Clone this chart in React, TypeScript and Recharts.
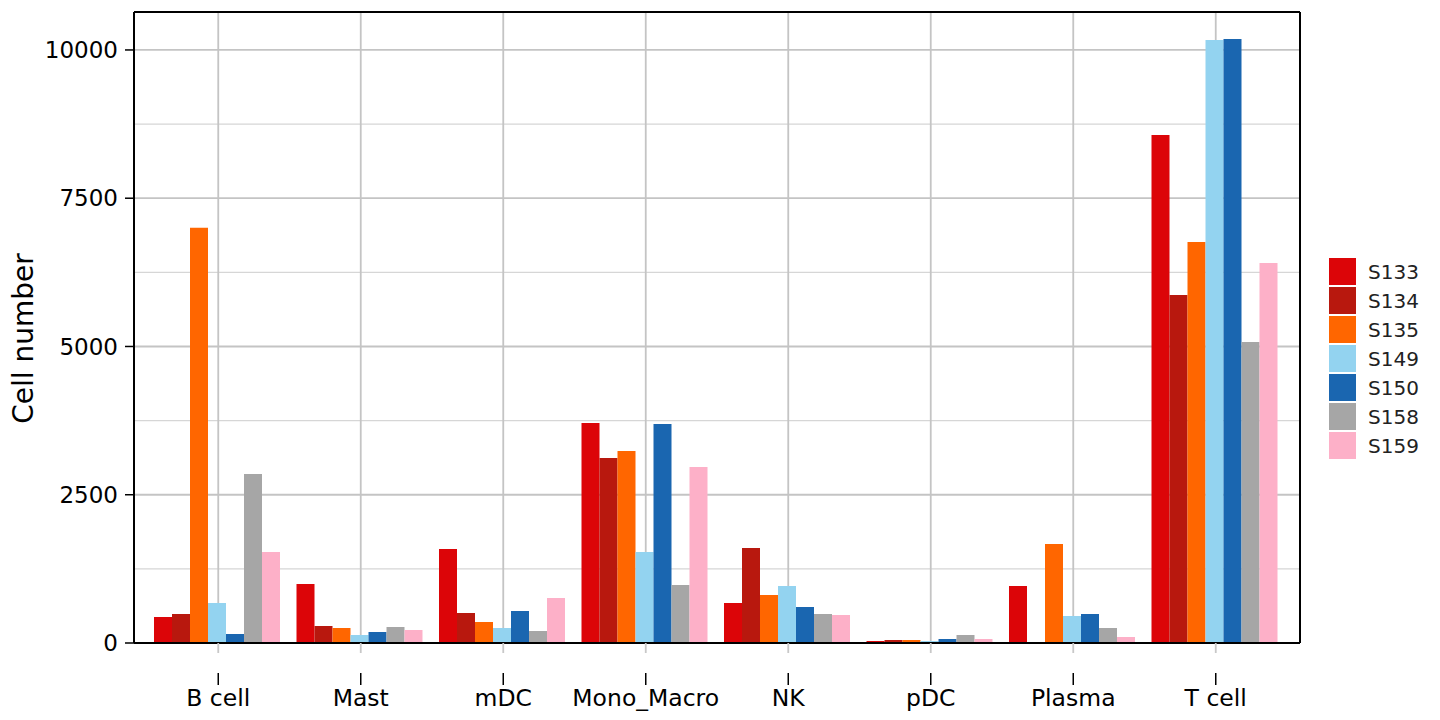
import React from 'react';
import {
  BarChart,
  Bar,
  XAxis,
  YAxis,
  CartesianGrid,
  Legend,
} from 'recharts';

const categories = ['B cell', 'Mast', 'mDC', 'Mono_Macro', 'NK', 'pDC', 'Plasma', 'T cell'];
const samples = ['S133', 'S134', 'S135', 'S149', 'S150', 'S158', 'S159'];
const colors = ['#dc0508', '#b8180e', '#ff6600', '#93d3f0', '#1a66b0', '#a6a6a6', '#fdb0c8'];

const S133 = [438, 995, 1585, 3710, 675, 34, 961, 8567];
const S134 = [489, 287, 506, 3120, 1602, 51, 17, 5868];
const S135 = [7000, 253, 354, 3238, 809, 51, 1670, 6762];
const S149 = [675, 135, 253, 1535, 961, 34, 455, 10169];
const S150 = [152, 186, 540, 3693, 607, 67, 489, 10186];
const S158 = [2850, 270, 202, 978, 489, 135, 253, 5076];
const S159 = [1535, 219, 759, 2968, 472, 67, 101, 6408];

const majorTicks = [0, 2500, 5000, 7500, 10000];
const minorTicks = [1250, 3750, 6250, 8750];
const yMax = 10640;

const series = [S133, S134, S135, S149, S150, S158, S159];
const data = categories.map((cat, i) => {
  const row: Record<string, string | number> = { cat };
  samples.forEach((s, j) => {
    row[s] = series[j][i];
  });
  return row;
});

const FONT = '"DejaVu Sans", sans-serif';

// minor horizontal grid positions, from the y axis scale when available
function minorLines(p: any) {
  const sc = p.yAxis && p.yAxis.scale;
  return minorTicks.map((v) => {
    if (typeof sc === 'function') return sc(v);
    if (sc && typeof sc.map === 'function') return sc.map(v);
    return p.offset.top + p.offset.height * (1 - v / yMax);
  });
}

// x tick: short grey grid stub, detached black tick, label
function XTick(props: any) {
  const { x, y, payload } = props;
  return (
    <g>
      <line x1={x} x2={x} y1={y} y2={y + 10} stroke="#c8c8c8" strokeWidth={1.8} />
      <line x1={x} x2={x} y1={y + 30} y2={y + 42} stroke="#000" strokeWidth={1.5} />
      <text x={x} y={y + 63} textAnchor="middle" fontSize={23.5} fill="#000" fontFamily={FONT}>
        {payload.value}
      </text>
    </g>
  );
}

function YLabel({ viewBox }: any) {
  const cx = viewBox.x + 9;
  const cy = viewBox.y + viewBox.height / 2 + 11;
  return (
    <text
      x={cx}
      y={cy}
      transform={`rotate(-90 ${cx} ${cy})`}
      textAnchor="middle"
      dominantBaseline="central"
      fontSize={28}
      fill="#000"
      fontFamily={FONT}
    >
      Cell number
    </text>
  );
}

function LegendBox({ payload }: any) {
  return (
    <div style={{ fontFamily: FONT, fontSize: 20, color: '#222' }}>
      {(payload || []).map((p: any) => (
        <div key={p.value} style={{ display: 'flex', alignItems: 'center', height: 29 }}>
          <div style={{ width: 27, height: 27, background: p.color, marginRight: 12 }} />
          <span>{p.value}</span>
        </div>
      ))}
    </div>
  );
}

export default function App() {
  return (
    <div style={{ position: 'absolute', left: 0, top: 0, width: 1440, height: 720, background: '#fff' }}>
      <BarChart
        width={1440}
        height={720}
        data={data}
        margin={{ top: 11, right: 139, bottom: 17, left: 14 }}
        barCategoryGap={7}
        barGap={0}
      >
        <CartesianGrid
          vertical={false}
          stroke="#d6d6d6"
          strokeWidth={1.3}
          horizontalCoordinatesGenerator={minorLines}
        />
        <CartesianGrid stroke="#c4c4c4" strokeWidth={1.8} />
        <XAxis
          dataKey="cat"
          height={60}
          padding={{ left: 13, right: 13 }}
          tickSize={0}
          tickMargin={0}
          tickLine={false}
          tick={<XTick />}
          axisLine={{ stroke: '#000', strokeWidth: 2 }}
          interval={0}
        />
        <XAxis
          xAxisId="top"
          dataKey="cat"
          orientation="top"
          height={1}
          tick={false}
          tickLine={false}
          axisLine={{ stroke: '#000', strokeWidth: 2 }}
        />
        <YAxis
          width={120}
          domain={[0, yMax]}
          ticks={majorTicks}
          tickSize={9}
          tickMargin={7}
          tick={{ fontSize: 23, fill: '#000', fontFamily: FONT }}
          tickLine={{ stroke: '#000', strokeWidth: 1.5 }}
          axisLine={{ stroke: '#000', strokeWidth: 2 }}
          allowDataOverflow
          label={<YLabel />}
        />
        <YAxis
          yAxisId="right"
          orientation="right"
          width={1}
          domain={[0, yMax]}
          tick={false}
          tickLine={false}
          axisLine={{ stroke: '#000', strokeWidth: 2 }}
        />
        <Legend
          layout="vertical"
          align="center"
          verticalAlign="middle"
          wrapperStyle={{ left: 1329, top: 257, width: 110 }}
          content={<LegendBox />}
        />
        {samples.map((s, j) => (
          <Bar key={s} dataKey={s} name={s} fill={colors[j]} isAnimationActive={false} />
        ))}
      </BarChart>
    </div>
  );
}
